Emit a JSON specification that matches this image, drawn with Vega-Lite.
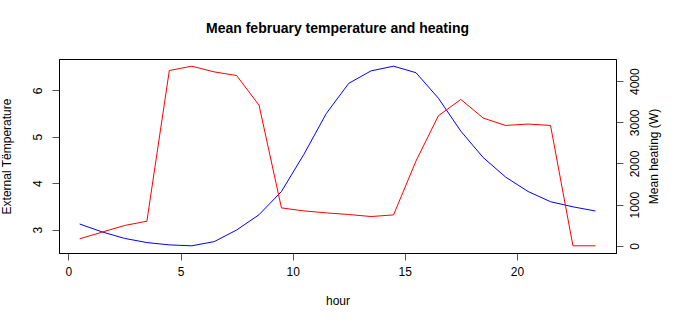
{
  "$schema": "https://vega.github.io/schema/vega-lite/v6.json",
  "autosize": "none",
  "width": 557,
  "height": 194,
  "padding": {"left": 59, "top": 59, "right": 75, "bottom": 74},
  "background": "white",
  "title": {"text": "Mean february temperature and heating", "fontSize": 14, "font": "Liberation Sans", "fontWeight": "bold", "anchor": "middle", "offset": 23, "color": "black"},
  "config": {
    "view": {"stroke": "black", "strokeWidth": 1},
    "axis": {"labelFont": "Liberation Sans", "titleFont": "Liberation Sans", "labelFontSize": 12, "titleFontSize": 12, "labelColor": "black", "titleColor": "black", "domainColor": "black", "tickColor": "#555555", "grid": false, "titleFontWeight": "normal", "tickSize": 7, "labelFlush": false, "labelOverlap": false}
  },
  "data": {"values": [
    {"hour": 0.5, "temp": 3.12, "heat": 170},
    {"hour": 1.5, "temp": 2.95, "heat": 332},
    {"hour": 2.5, "temp": 2.81, "heat": 493},
    {"hour": 3.5, "temp": 2.72, "heat": 598},
    {"hour": 4.5, "temp": 2.67, "heat": 4259},
    {"hour": 5.5, "temp": 2.65, "heat": 4364},
    {"hour": 6.5, "temp": 2.74, "heat": 4226},
    {"hour": 7.5, "temp": 2.99, "heat": 4137},
    {"hour": 8.5, "temp": 3.32, "heat": 3418},
    {"hour": 9.5, "temp": 3.82, "heat": 921},
    {"hour": 10.5, "temp": 4.62, "heat": 848},
    {"hour": 11.5, "temp": 5.5, "heat": 800},
    {"hour": 12.5, "temp": 6.15, "heat": 760},
    {"hour": 13.5, "temp": 6.42, "heat": 711},
    {"hour": 14.5, "temp": 6.52, "heat": 751},
    {"hour": 15.5, "temp": 6.38, "heat": 2060},
    {"hour": 16.5, "temp": 5.83, "heat": 3160},
    {"hour": 17.5, "temp": 5.12, "heat": 3556},
    {"hour": 18.5, "temp": 4.55, "heat": 3103},
    {"hour": 19.5, "temp": 4.13, "heat": 2925},
    {"hour": 20.5, "temp": 3.82, "heat": 2958},
    {"hour": 21.5, "temp": 3.6, "heat": 2925},
    {"hour": 22.5, "temp": 3.49, "heat": 0},
    {"hour": 23.5, "temp": 3.4, "heat": 0}
  ]},
  "encoding": {
    "x": {"field": "hour", "type": "quantitative", "scale": {"domain": [-0.42, 24.42], "nice": false, "zero": false},
      "axis": {"values": [0, 5, 10, 15, 20], "title": "hour", "labelPadding": 6, "titlePadding": 18}}
  },
  "layer": [
    {"mark": {"type": "line", "color": "#0000FF", "strokeWidth": 1},
     "encoding": {"y": {"field": "temp", "type": "quantitative", "scale": {"domain": [2.495, 6.675], "nice": false, "zero": false},
       "axis": {"orient": "left", "values": [3, 4, 5, 6], "labelAngle": -90, "labelAlign": "center", "labelBaseline": "bottom", "labelPadding": 8, "title": "External Tëmperature", "titlePadding": 18}}}},
    {"mark": {"type": "line", "color": "#FF0000", "strokeWidth": 1},
     "encoding": {"y": {"field": "heat", "type": "quantitative", "scale": {"domain": [-175, 4539], "nice": false, "zero": false},
       "axis": {"orient": "right", "values": [0, 1000, 2000, 3000, 4000], "format": "d", "labelAngle": -90, "labelAlign": "center", "labelBaseline": "top", "labelPadding": 6, "title": "Mean heating (W)", "titleAngle": -90, "titleBaseline": "bottom", "titlePadding": 20}}}}
  ],
  "resolve": {"scale": {"y": "independent"}}
}
